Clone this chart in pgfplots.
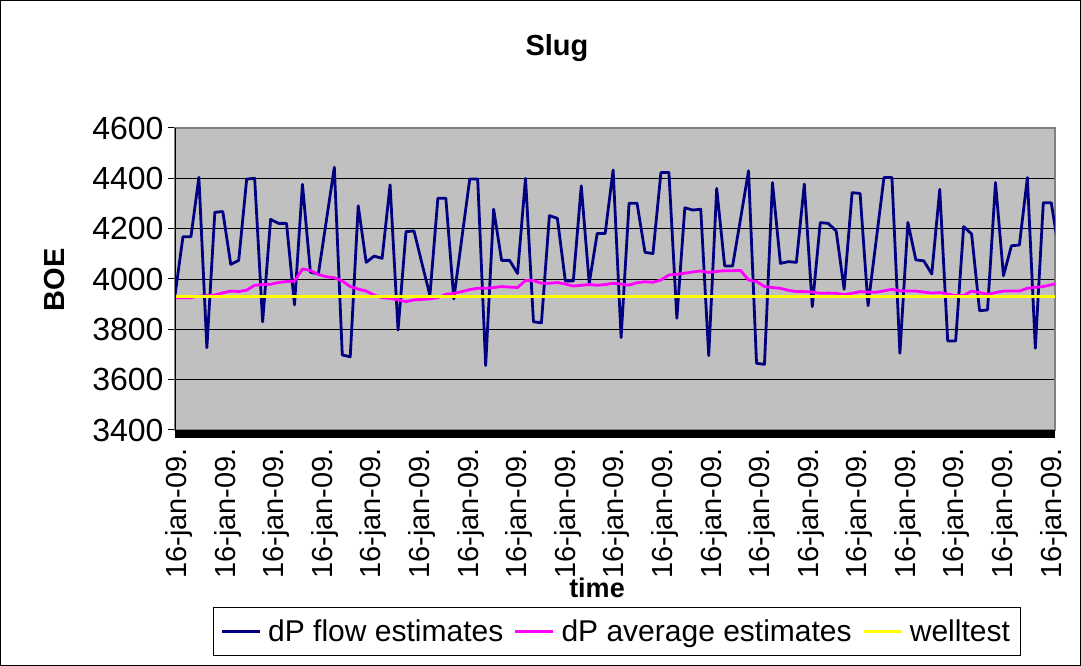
\documentclass[border=0pt]{standalone}
\usepackage{fontspec}
\setmainfont{Liberation Sans}
\usepackage{pgfplots}
\usepackage{pgfplotstable}
\pgfplotsset{compat=1.18}
\definecolor{navyb}{RGB}{0,0,128}
\definecolor{magb}{RGB}{255,0,255}
\definecolor{yelb}{RGB}{255,255,0}
\definecolor{plotgray}{RGB}{192,192,192}
\definecolor{axgray}{RGB}{128,128,128}

\pgfplotstableread{
i flow avg
0 3935 3926
1 4168 3926
2 4168 3926
3 4404 3932
4 3727 3934
5 4265 3936
6 4268 3945
7 4058 3952
8 4074 3950
9 4397 3956
10 4400 3975
11 3830 3978
12 4237 3979
13 4221 3986
14 4221 3990
15 3897 3991
16 4376 4040
17 4027 4034
18 4020 4018
19 4232 4009
20 4444 4005
21 3698 3992
22 3691 3970
23 4291 3960
24 4066 3952
25 4091 3936
26 4082 3926
27 4374 3923
28 3797 3917
29 4188 3910
30 4191 3917
31 4062 3919
32 3935 3921
33 4321 3926
34 4321 3939
35 3921 3943
36 4160 3950
37 4397 3958
38 4397 3963
39 3656 3963
40 4277 3966
41 4074 3970
42 4074 3968
43 4022 3966
44 4400 3994
45 3830 3994
46 3826 3983
47 4252 3983
48 4241 3986
49 3992 3980
50 3992 3972
51 4370 3975
52 3983 3978
53 4181 3975
54 4181 3978
55 4433 3983
56 3767 3980
57 4301 3976
58 4301 3985
59 4106 3989
60 4101 3987
61 4423 3996
62 4423 4016
63 3844 4019
64 4283 4023
65 4274 4028
66 4277 4032
67 3695 4026
68 4360 4030
69 4052 4033
70 4052 4033
71 4240 4034
72 4430 3996
73 3665 3990
74 3661 3970
75 4383 3966
76 4062 3963
77 4069 3955
78 4066 3950
79 4377 3950
80 3890 3948
81 4224 3943
82 4221 3944
83 4191 3943
84 3959 3938
85 4343 3943
86 4340 3950
87 3894 3948
88 4148 3947
89 4403 3953
90 4403 3959
91 3705 3953
92 4225 3952
93 4076 3952
94 4072 3948
95 4020 3944
96 4356 3946
97 3754 3940
98 3754 3934
99 4208 3934
100 4179 3952
101 3874 3946
102 3877 3939
103 4383 3946
104 4013 3952
105 4132 3952
106 4135 3952
107 4403 3963
108 3725 3967
109 4303 3970
110 4303 3977
111 4105 3985
}\slugdata

\begin{document}
\begin{tikzpicture}[x=1pt,y=1pt]
\useasboundingbox (0,0) rectangle (1081,666);
\fill[white] (0,0) rectangle (1081,666);
\draw[black,line width=1pt] (0.5,0.5) rectangle (1080.5,665.5);
\begin{axis}[
  at={(175pt,236pt)}, anchor=south west,
  scale only axis, width=880pt, height=302pt,
  xmin=0, xmax=110.47, ymin=3400, ymax=4600,
  ytick={3400,3600,...,4600},
  xtick={0,6.1,12.2,18.3,24.4,30.5,36.6,42.7,48.8,54.9,61,67.1,73.2,79.3,85.4,91.5,97.6,103.7,109.8},
  xticklabel={16-jan-09.},
  ymajorgrids, grid style={black, line width=0.8pt},
  axis background/.style={fill=plotgray},
  axis line style={draw=axgray, line width=1.5pt},
  font=\fontsize{29}{34}\selectfont,
  /pgf/number format/assume math mode=true,
  /pgf/number format/1000 sep={},
  tick align=outside,
  ytick pos=left,
  xtick pos=bottom,
  major tick length=7pt,
  ytick style={black, line width=1pt},
  xtick style={draw=none},
  x tick label style={rotate=90, anchor=east, xshift=-9pt, yshift=-4pt, inner sep=2pt},
  y tick label style={xshift=-1pt, font=\fontsize{32}{37}\selectfont},
  legend style={at={(0.5017,-0.667)}, anchor=center, draw=black, fill=white,
    line width=0.8pt, legend columns=3, font=\fontsize{30}{35}\selectfont,
    inner xsep=8pt, inner ysep=10pt,
    /tikz/every even column/.append style={column sep=9pt},
    /tikz/every odd column/.append style={column sep=5pt}},
  legend image code/.code={\draw[#1, line width=2.2pt] (0pt,0pt) -- (38pt,0pt);},
]
\addplot[navyb, line width=2.8pt, line join=round] table[x=i, y=flow] {\slugdata};
\addlegendentry{dP flow estimates}
\addplot[magb, line width=2.8pt, line join=round] table[x=i, y=avg] {\slugdata};
\addlegendentry{dP average estimates}
\addplot[yelb, line width=2.8pt] coordinates {(0,3930) (110.47,3930)};
\addlegendentry{welltest}
\draw[black, line width=1.2pt] (rel axis cs:0,0) -- (rel axis cs:0,1);
\end{axis}
\fill[black] (175,228) rectangle (1055,236);
\node[font=\fontsize{29}{34}\selectfont\bfseries] at (557,618) {Slug};
\node[font=\fontsize{29}{34}\selectfont\bfseries, rotate=90] at (55,386) {BOE};
\node[font=\fontsize{27}{32}\selectfont\bfseries] at (597,78) {time};
\end{tikzpicture}
\end{document}
